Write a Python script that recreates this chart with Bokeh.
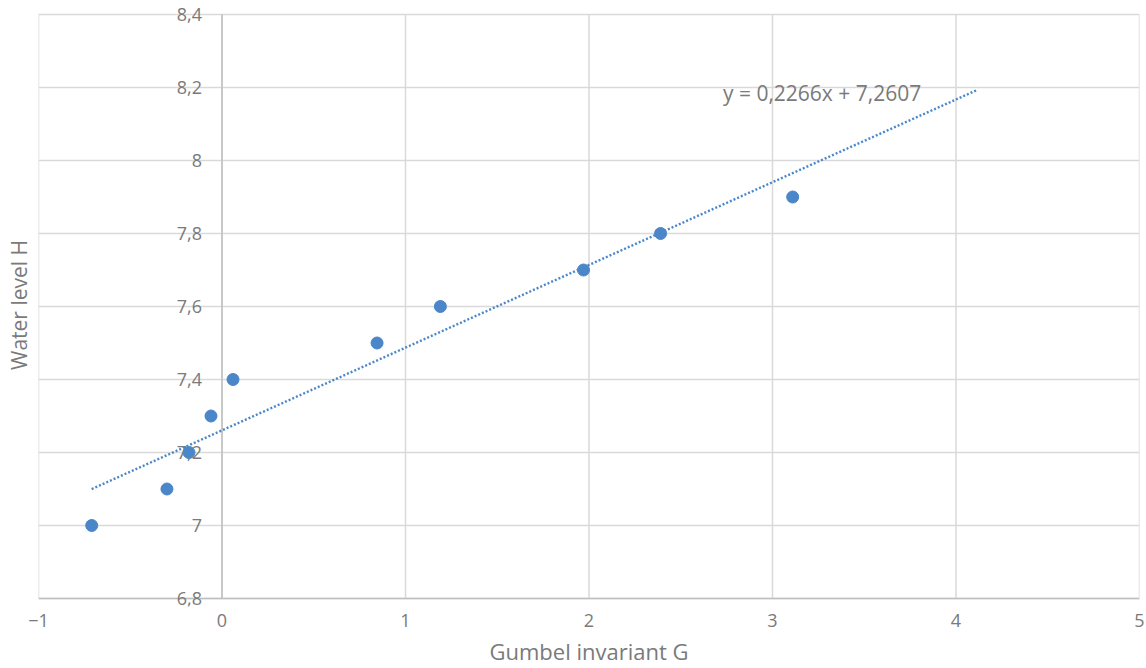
from bokeh.plotting import figure
from bokeh.models import FixedTicker, Range1d
from bokeh.core.properties import value
from bokeh.embed import file_html
from bokeh.resources import INLINE

# Data
gumbel = [-0.71, -0.30, -0.18, -0.06, 0.06, 0.845, 1.19, 1.97, 2.39, 3.11]
water_level = [7.0, 7.1, 7.2, 7.3, 7.4, 7.5, 7.6, 7.7, 7.8, 7.9]
slope = 0.2266
intercept = 7.2607
trend_forward = 1.0
equation_text = "y = 0,2266x + 7,2607"

x_ticks = [-1, 0, 1, 2, 3, 4, 5]
y_ticks = [6.8, 7.0, 7.2, 7.4, 7.6, 7.8, 8.0, 8.2, 8.4]
y_tick_labels = ["6,8", "7", "7,2", "7,4", "7,6", "7,8", "8", "8,2", "8,4"]

X_MIN, X_MAX = -1, 5
Y_MIN, Y_MAX = 6.8, 8.4
BOX_PX = 584            # height of the chart box in pixels
PAD_TOP_PX = 11         # room above the box for the top tick label
PAD_BOTTOM_PX = 8       # room below the box for the bottom tick label
pad_top = (Y_MAX - Y_MIN) * PAD_TOP_PX / BOX_PX
pad_bottom = (Y_MAX - Y_MIN) * PAD_BOTTOM_PX / BOX_PX

FONT = "Open Sans"
TXT = "#7a7a7a"
GRID = "#d9d9d9"
AXIS = "#bfbfbf"
BLUE = "#4a86c8"

p = figure(width=1144, height=668, output_backend="svg", toolbar_location=None,
           x_range=Range1d(X_MIN, X_MAX),
           y_range=Range1d(Y_MIN - pad_bottom, Y_MAX + pad_top),
           min_border_left=38, min_border_right=5, min_border_top=14 - PAD_TOP_PX,
           min_border_bottom=0)
p.background_fill_color = "white"
p.border_fill_color = "white"
p.outline_line_color = None
p.xgrid.visible = False
p.ygrid.visible = False

# grid lines limited to the chart box
p.segment(x0=x_ticks, y0=[Y_MIN] * len(x_ticks), x1=x_ticks, y1=[Y_MAX] * len(x_ticks),
          line_color=GRID, line_width=1.5)
p.segment(x0=[X_MIN] * len(y_ticks), y0=y_ticks, x1=[X_MAX] * len(y_ticks), y1=y_ticks,
          line_color=GRID, line_width=1.5)
# axis lines (vertical at x = 0, horizontal at the bottom)
p.segment(x0=[0], y0=[Y_MIN], x1=[0], y1=[Y_MAX], line_color=AXIS, line_width=1.5)
p.segment(x0=[X_MIN], y0=[Y_MIN], x1=[X_MAX], y1=[Y_MIN], line_color=AXIS, line_width=1.5)

# x axis
xa = p.xaxis[0]
xa.ticker = FixedTicker(ticks=x_ticks)
xa.axis_line_color = None
xa.major_tick_line_color = None
xa.minor_tick_line_color = None
xa.major_tick_out = 0
xa.major_tick_in = 0
xa.major_label_standoff = 7
xa.major_label_text_font = FONT
xa.major_label_text_font_size = "18px"
xa.major_label_text_color = TXT
xa.axis_label = "Gumbel invariant G"
xa.axis_label_text_font = FONT
xa.axis_label_text_font_size = "22px"
xa.axis_label_text_font_style = "normal"
xa.axis_label_text_color = TXT
xa.axis_label_standoff = 6

# y axis (title only; tick labels drawn at x = 0)
ya = p.yaxis[0]
ya.ticker = FixedTicker(ticks=[])
ya.axis_line_color = None
ya.major_tick_line_color = None
ya.minor_tick_line_color = None
ya.axis_label = "Water level H"
ya.axis_label_text_font = FONT
ya.axis_label_text_font_size = "21px"
ya.axis_label_text_font_style = "normal"
ya.axis_label_text_color = TXT
ya.axis_label_standoff = 6

# y tick labels at x = 0
p.text(x=[0] * len(y_ticks), y=y_ticks, text=y_tick_labels, x_offset=-20,
       text_align="right", text_baseline="middle", text_font=value(FONT),
       text_font_size="18px", text_color=TXT)

# trend line
x0 = min(gumbel)
x1 = max(gumbel) + trend_forward
p.line([x0, x1], [intercept + slope * x0, intercept + slope * x1],
       line_color=BLUE, line_width=2.4, line_dash="2 2")

# points
p.scatter(gumbel, water_level, size=12, fill_color=BLUE, line_color=BLUE)

# equation
p.text(x=[2.73], y=[8.184], text=[equation_text], text_font=value(FONT),
       text_font_size="21px", text_color=TXT, text_baseline="middle", text_align="left")

open("out.html", "w").write(file_html(p, INLINE))
